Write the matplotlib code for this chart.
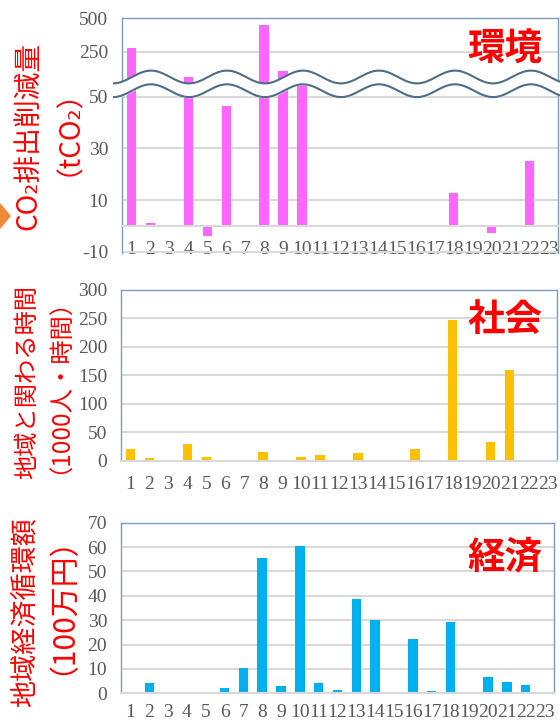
import numpy as np
import matplotlib
matplotlib.use('Agg')
import matplotlib.pyplot as plt
from matplotlib.patches import Polygon

plt.rcParams['font.family'] = ['Liberation Serif', 'DejaVu Sans']
plt.rcParams['axes.unicode_minus'] = False

# data
cats = list(range(1, 24))
cat_labels = [str(c) for c in cats]
co2 = [280, 1.2, 0, 60, -4.1, 46.5, 0, 452, 105, 55, 0, 0, 0, 0, 0, 0, 0,
       12.7, 0, -2.7, 0, 25, 0]
hours = [20, 4, 0, 29, 7, 0.5, 2, 16, 1, 6.5, 10, 2, 14, 1, 0, 20.5, 1,
         247, 0, 32, 160, 1.5, 0]
money = [0, 4.1, 0, 0, 0, 2.3, 10.5, 55.7, 3.1, 60.6, 4.1, 1.4, 38.6, 30.1,
         0, 22.2, 1, 29.3, 0, 6.8, 4.7, 3.3, 0.5]

co2_ticks = [-10, 10, 30, 50, 250, 500]
hours_ticks = [0, 50, 100, 150, 200, 250, 300]
money_ticks = [0, 10, 20, 30, 40, 50, 60, 70]

PINK = '#ff66ff'
YELLOW = '#ffc000'
BLUE = '#00b0f0'
RED = '#ff0000'
SPINE = '#7f9cc0'
GRID = '#d9d9d9'
TICK = '#595959'
CJK = ['Noto Sans CJK JP', 'DejaVu Sans']

# broken axis: linear up to BRK, compressed above it
BRK = 57.5
RATIO = 0.0518


def fwd(v):
    v = np.asarray(v, dtype=float)
    return np.where(v <= BRK, v, BRK + (v - BRK) * RATIO)


def inv(u):
    u = np.asarray(u, dtype=float)
    return np.where(u <= BRK, u, BRK + (u - BRK) / RATIO)


W, H = 560, 722
fig = plt.figure(figsize=(W / 100, H / 100), dpi=100)


def px_axes(left, top, right, bottom):
    return fig.add_axes([left / W, (H - bottom) / H, (right - left) / W,
                         (bottom - top) / H])


def style(ax, ticks, xpad=11):
    ax.set_xlim(0.5, 23.5)
    ax.set_xticks(cats)
    ax.set_xticklabels(cat_labels)
    ax.set_yticks(ticks)
    ax.set_yticklabels([str(t) for t in ticks])
    ax.tick_params(axis='both', length=0, labelsize=14, labelcolor=TICK)
    ax.tick_params(axis='y', pad=10)
    ax.tick_params(axis='x', pad=xpad)
    ax.grid(axis='y', color=GRID, linewidth=1.5)
    ax.set_axisbelow(True)
    for s in ['left', 'top', 'right']:
        ax.spines[s].set_color(SPINE)
        ax.spines[s].set_linewidth(1.0)
    ax.spines['bottom'].set_color(GRID)
    ax.spines['bottom'].set_linewidth(1.5)


# panel 1: CO2
ax1 = px_axes(122, 18.3, 558, 252.9)
ax1.set_yscale('function', functions=(fwd, inv))
ax1.bar(cats, co2, width=0.5, color=PINK)
ax1.set_ylim(-10.5, 500)
style(ax1, co2_ticks)
ax1.spines['bottom'].set_position(('data', 0))

# panel 2: hours
ax2 = px_axes(121, 290, 557, 460.7)
ax2.bar(cats, hours, width=0.5, color=YELLOW)
ax2.set_ylim(0, 300)
style(ax2, hours_ticks)

# panel 3: money
ax3 = px_axes(121, 522.7, 554, 693.3)
ax3.bar(cats, money, width=0.5, color=BLUE)
ax3.set_ylim(0, 70)
style(ax3, money_ticks, xpad=8)

# category titles
for ax, txt, yc in [(ax1, '環境', 49), (ax2, '社会', 319), (ax3, '経済', 557)]:
    fig.text(505 / W, (H - yc) / H, txt, ha='center', va='center',
             fontsize=27, fontweight='bold', color=RED, family=CJK)

# axis titles
ylabels = [
    ('CO₂排出削減量', 28, 136, 20),
    ('（tCO₂）', 54, 118, 20),
    ('地域と関わる時間', 27, 382, 17.5),
    ('（1000人・時間）', 48, 374, 17.5),
    ('地域経済循環額', 25, 612, 19.5),
    ('（100万円）', 47, 590, 21.5),
]
for txt, xc, yc, fs in ylabels:
    fig.text(xc / W, (H - yc) / H, txt, rotation=90, ha='center',
             va='center', fontsize=fs, color=RED, family=CJK)

# overlay for the break wave and the orange arrow tip
ov = fig.add_axes([0, 0, 1, 1], zorder=5)
ov.set_xlim(0, W)
ov.set_ylim(H, 0)
ov.axis('off')
ov.patch.set_alpha(0)

xw = np.linspace(114, W, 400)
y_up = 77 - 6.4 * np.cos(2 * np.pi * (xw - 151) / 76)
y_lo = y_up + 13.7
ov.fill_between(xw, y_up, y_lo, color='white', zorder=1)
ov.plot(xw, y_up, color='#4f6d87', linewidth=1.5, zorder=2)
ov.plot(xw, y_lo, color='#4f6d87', linewidth=1.5, zorder=2)

ov.add_patch(Polygon([(0, 204), (10, 216), (0, 228)], closed=True,
                     color='#f0883a', zorder=2))

fig.savefig('out.png', dpi=100)
